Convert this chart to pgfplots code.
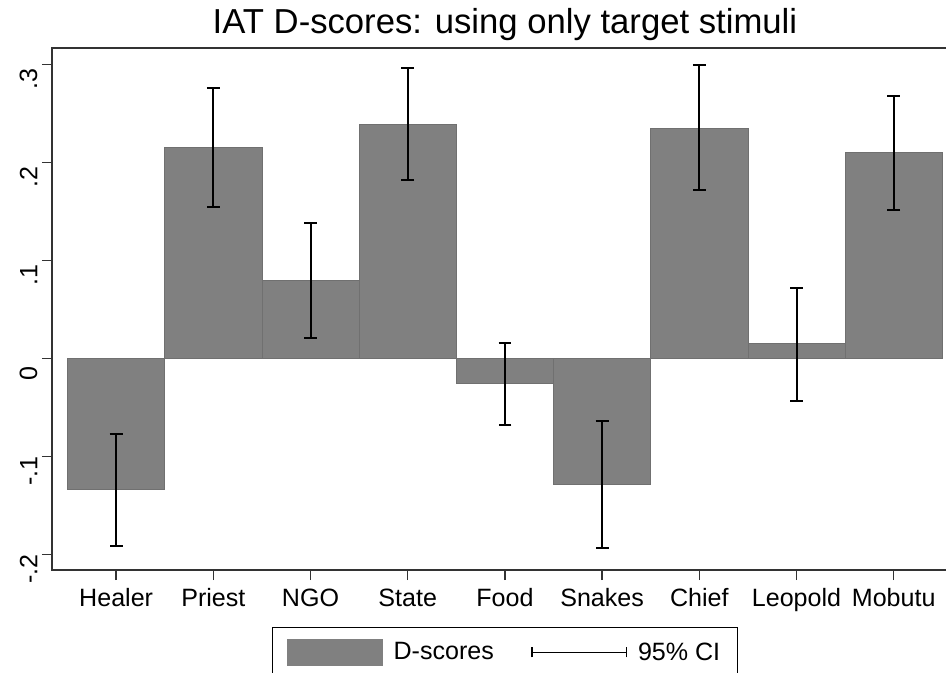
\documentclass[border=0pt]{standalone}
\usepackage{pgfplots}
\pgfplotsset{compat=1.18}
\usepackage{pgfplotstable}
\usepackage{fontspec}
\setmainfont{Liberation Sans}
\definecolor{barfill}{RGB}{128,128,128}
\definecolor{baredge}{RGB}{112,112,112}
\pgfplotstableread{
x y ep em
0 -0.133 0.056 0.058
1 0.215 0.061 0.060
2 0.080 0.058 0.059
3 0.239 0.057 0.057
4 -0.025 0.041 0.043
5 -0.128 0.064 0.065
6 0.235 0.064 0.063
7 0.015 0.057 0.058
8 0.210 0.058 0.059
}\dscores
\begin{document}
\begin{tikzpicture}
\begin{axis}[
  scale only axis,
  width=679.4pt, height=391.5pt,
  xmin=-0.66, xmax=8.66,
  ymin=-0.2158, ymax=0.3168,
  xtick={0,1,2,3,4,5,6,7,8},
  xticklabels={Healer,Priest,NGO,State,Food,Snakes,Chief,Leopold,Mobutu},
  ytick={-0.2,-0.1,0,0.1,0.2,0.3},
  yticklabels={-.2,-.1,0,.1,.2,.3},
  tick align=outside,
  major tick length=7.5pt,
  tick style={line width=1pt, black!80},
  xtick pos=bottom, ytick pos=left,
  axis line style={line width=1.2pt, black!80},
  tick label style={font=\fontsize{18.8}{21}\selectfont},
  yticklabel style={rotate=90, anchor=south, xshift=-11pt},
  xticklabel style={anchor=north, text height=14pt, text depth=4pt, yshift=-2pt},
  title={IAT D-scores: using only target stimuli},
  title style={at={(0.5,1)}, anchor=base, yshift=5pt, font=\fontsize{26}{30}\selectfont},
  legend style={at={(0.5,0)}, anchor=north, yshift=-42.75pt,
    draw=black, line width=1pt, inner xsep=11pt, inner ysep=8.5pt,
    font=\fontsize{18.8}{21}\selectfont, legend columns=2,
    /tikz/every odd column/.append style={column sep=6pt},
    /tikz/every even column/.append style={column sep=26pt}},
  legend cell align=left,
]
\addplot[ybar, bar width=1, bar shift=0pt, fill=barfill, draw=baredge, line width=0.5pt, forget plot,
  error bars/.cd, y dir=both, y explicit,
  error bar style={line width=1.5pt, black},
  error mark options={line width=1.5pt, black, mark size=4.8pt, rotate=90}]
  table[x=x, y=y, y error plus=ep, y error minus=em] {\dscores};
\addlegendimage{legend image code/.code={
  \fill[barfill] (0pt,-9.5pt) rectangle (71pt,9.5pt);}}
\addlegendentry{D-scores}
\addlegendimage{legend image code/.code={
  \draw[line width=1.1pt, black] (0pt,0pt) -- (71pt,0pt);
  \draw[line width=1.1pt, black] (0pt,-3.8pt) -- (0pt,3.8pt);
  \draw[line width=1.1pt, black] (71pt,-3.8pt) -- (71pt,3.8pt);}}
\addlegendentry{95\% CI}
\coordinate (sw) at (rel axis cs:0,0);
\end{axis}
\pgfresetboundingbox
\path ([shift={(-39pt,-76.5pt)}]sw) rectangle ([shift={(670.5pt,427.5pt)}]sw);
\end{tikzpicture}
\end{document}
